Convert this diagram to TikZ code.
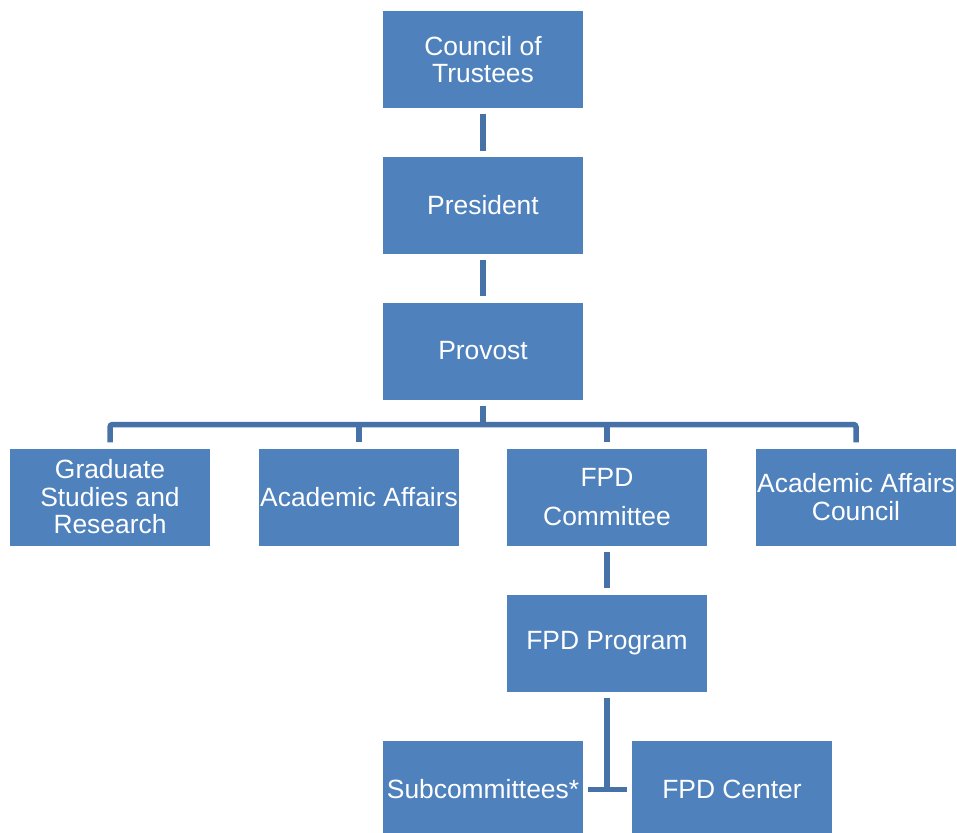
\documentclass[tikz,border=0pt]{standalone}
\usepackage{fontspec}
\setmainfont{Liberation Sans}
\definecolor{boxblue}{HTML}{4F81BD}
\definecolor{lineblue}{HTML}{4672A8}
\begin{document}
\begin{tikzpicture}[x=1pt,y=-1pt,
  box/.style={fill=boxblue, draw=none, minimum width=200pt, minimum height=97pt,
    inner sep=0pt, text=white, align=center, font=\fontsize{26.4}{27.5}\selectfont},
  conn/.style={draw=lineblue, line width=5.5pt}]
\useasboundingbox (0,0) rectangle (957,832);
\clip (0,0) rectangle (957,832);
\node[box] (cot) at (483,59.5) {Council of\\Trustees};
\node[box] (pres) at (483,205) {President};
\node[box] (prov) at (483,351) {Provost};
\node[box] (gsr) at (110,497) {Graduate\\Studies and\\Research};
\node[box] (aa) at (359,497) {Academic Affairs};
\node[box] (fpdc) at (607,497) {FPD\\[11.5pt]Committee};
\node[box] (aac) at (856,497) {Academic Affairs\\Council};
\node[box] (fpdp) at (607,643) {FPD Program};
\node[box] (sub) at (483,789.5) {Subcommittees*};
\node[box] (cen) at (732,789.5) {FPD Center};
\coordinate (bus) at (483,424.5);
\coordinate (j) at (fpdp.south |- sub.east);
\draw[conn, shorten <=5.5pt, shorten >=5.5pt] (cot.south) -- (pres.north);
\draw[conn, shorten <=6pt, shorten >=6pt] (pres.south) -- (prov.north);
\draw[conn] ([yshift=-6pt]prov.south) -- (bus);
\draw[conn, rounded corners=2.5pt] ([yshift=6pt]gsr.north) -- (gsr.north |- bus) -- (aac.north |- bus) -- ([yshift=6pt]aac.north);
\draw[conn] ([yshift=6pt]aa.north) -- (aa.north |- bus);
\draw[conn] ([yshift=6pt]fpdc.north) -- (fpdc.north |- bus);
\draw[conn, shorten <=6pt, shorten >=6pt] (fpdc.south) -- (fpdp.north);
\draw[conn] ([yshift=-6pt]fpdp.south) -- (j);
\draw[conn] ([xshift=5pt]sub.east) -- ([xshift=-5pt]cen.west);
\end{tikzpicture}
\end{document}
